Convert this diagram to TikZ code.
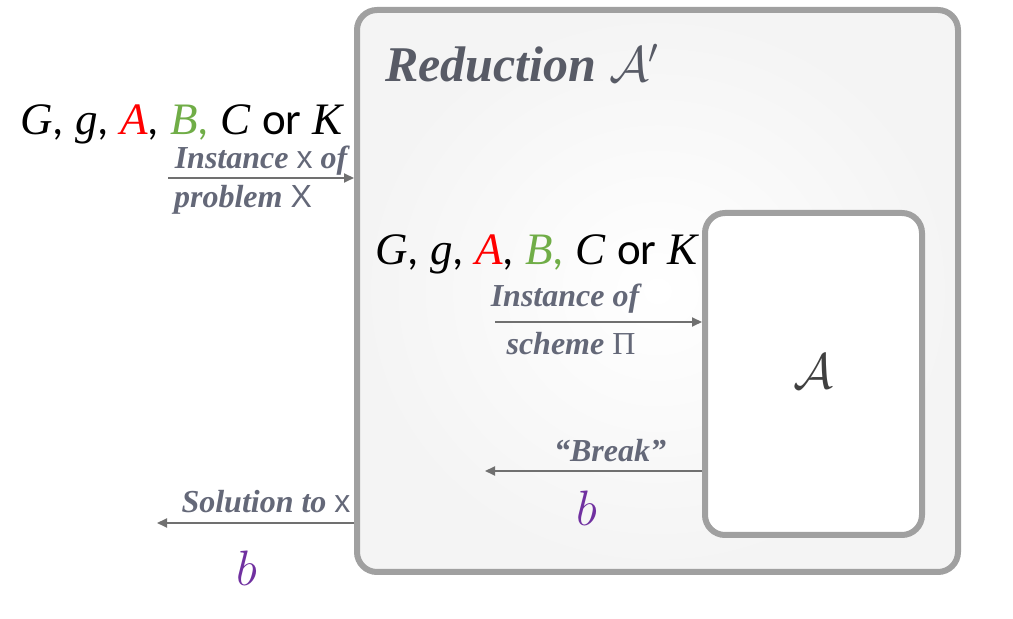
\documentclass[tikz,border=0pt]{standalone}
\usepackage{fontspec}
\usepackage{amsmath}
\setmainfont{Liberation Serif}
\newfontfamily\calfont{Carlito}
\newfontfamily\sfx{Liberation Sans}
\usetikzlibrary{arrows.meta}
\definecolor{boxline}{HTML}{A0A0A0}
\definecolor{boxfill}{HTML}{F4F4F4}
\definecolor{arrcol}{HTML}{707070}
\definecolor{lblcol}{HTML}{646878}
\definecolor{titlecol}{HTML}{585B66}
\definecolor{redA}{HTML}{FF0000}
\definecolor{greenB}{HTML}{70AD47}
\definecolor{purpleb}{HTML}{7030A0}
\tikzset{
  outerbox/.style={draw=boxline, line width=3pt, rounded corners=10pt, inner color=white, outer color=boxfill, inner sep=0pt},
  innerbox/.style={draw=boxline, line width=3pt, rounded corners=10pt, fill=white, inner sep=0pt},
  arr/.style={draw=arrcol, line width=1pt, -{Triangle[length=5pt,width=4.5pt]}},
  lbl/.style={text=lblcol, font=\fontsize{16}{18}\selectfont\bfseries\itshape, inner sep=0pt},
  mathlbl/.style={font=\fontsize{22.5}{25}\selectfont, inner sep=0pt},
  bvar/.style={text=purpleb, font=\fontsize{24}{26}\selectfont, inner sep=0pt},
}
\newcommand{\vl}[1]{\textit{#1}}
\newcommand{\varlist}{\vl{G}{\calfont,} \vl{g}{\calfont,} \textcolor{redA}{\vl{A}}{\calfont,} \textcolor{greenB}{\vl{B}\calfont,} \vl{C} {\calfont or} \vl{K}}
\begin{document}
\begin{tikzpicture}[x=0.5pt,y=-0.5pt]
\useasboundingbox (0,0) rectangle (1013,619);
\fill[white] (0,0) rectangle (1013,619);
% outer box
\node[outerbox, minimum width=300.5pt, minimum height=281pt] (outer) at (657.5,291) {};
\node[anchor=base west, text=titlecol, font=\fontsize{25}{28}\selectfont\bfseries\itshape, inner sep=0pt] (title) at (385,82) {Reduction $\mathcal{A}'$};
% inner box
\node[innerbox, minimum width=108.5pt, minimum height=161pt] (inner) at (813.5,374) {};
\node[text=black!75, font=\fontsize{40}{42}\selectfont, inner sep=0pt] (alg) at (813.5,372) {$\mathcal{A}$};
% variable lists
\node[mathlbl, anchor=base west] (vars1) at (20,135) {\varlist};
\node[mathlbl, anchor=base west] (vars2) at (375,265) {\varlist};
% arrow 1: instance of problem
\coordinate (i1) at (168,178);
\draw[arr] (i1) -- (i1 -| outer.west);
\node[lbl, anchor=base] (l1a) at (261,169) {Instance {\sfx\mdseries\upshape x} of};
\node[lbl, anchor=base] (l1b) at (243,208) {problem {\sfx\mdseries\upshape X}};
% arrow 2: instance of scheme
\coordinate (i2) at (495,322);
\draw[arr] (i2) -- (i2 -| inner.west);
\node[lbl, anchor=base] (l2a) at (565,307) {Instance of};
\node[lbl, anchor=base] (l2b) at (571,355) {scheme {\mdseries\upshape Π}};
% arrow 3: break
\coordinate (i3) at (485,471);
\draw[arr] (i3 -| inner.west) -- (i3);
\node[lbl, anchor=base] (l3) at (610,462) {``Break''};
\node[bvar] (b1) at (587,508) {$b$};
% arrow 4: solution
\coordinate (i4) at (157,523);
\draw[arr] (i4 -| outer.west) -- (i4);
\node[lbl, anchor=base] (l4) at (266,513) {Solution to {\sfx\mdseries\upshape x}};
\node[bvar] (b2) at (247,568) {$b$};
\end{tikzpicture}
\end{document}
